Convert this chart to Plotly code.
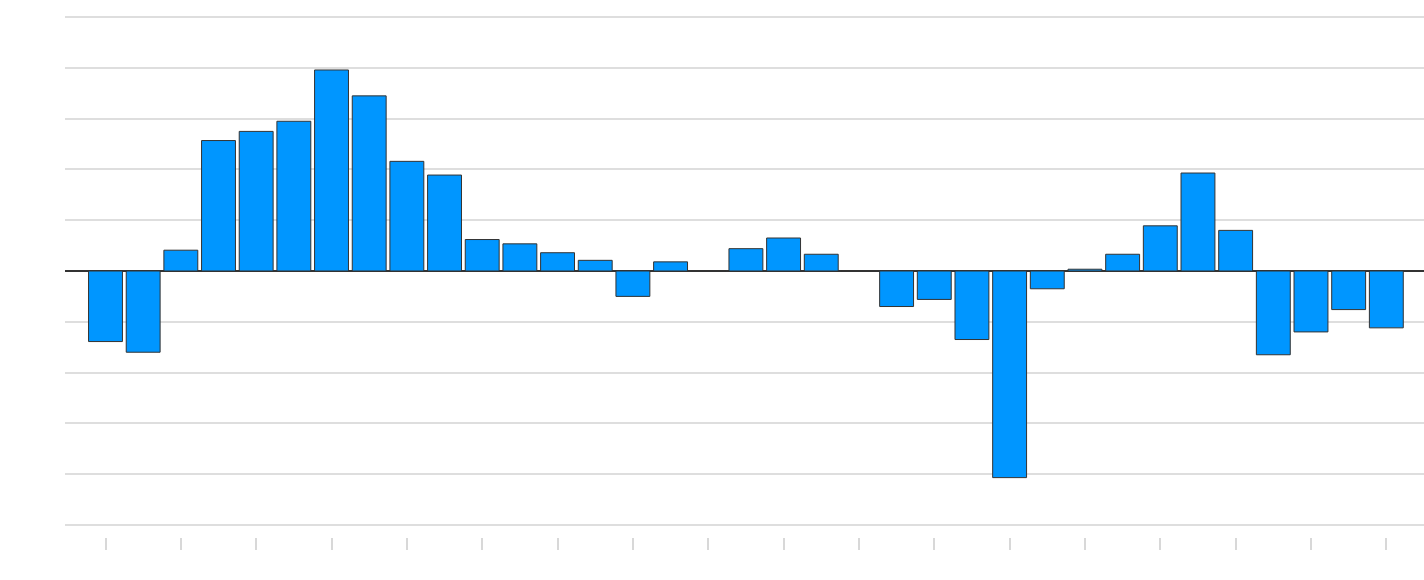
import plotly.graph_objects as go

# Category labels (not shown in the reference) and values
categories = [f"P{i + 1}" for i in range(35)]
values = [-1.39, -1.60, 0.41, 2.57, 2.75, 2.95, 3.96, 3.45, 2.16, 1.89,
          0.62, 0.535, 0.36, 0.21, -0.50, 0.18, 0.0, 0.44, 0.65, 0.33,
          0.0, -0.70, -0.56, -1.35, -4.07, -0.35, 0.035, 0.33, 0.89, 1.93,
          0.80, -1.65, -1.20, -0.76, -1.12]
tick_categories = categories[::2]

fig = go.Figure(
    go.Bar(
        x=categories,
        y=values,
        width=0.9,
        marker=dict(color="rgb(0,150,255)", line=dict(color="#333333", width=1)),
        hoverinfo="x+y",
    )
)

fig.update_layout(
    width=1424,
    height=580,
    margin=dict(l=65, r=0, t=5, b=43),
    paper_bgcolor="white",
    plot_bgcolor="white",
    showlegend=False,
    xaxis=dict(
        type="category",
        range=[-1.075, 35.0],
        showgrid=False,
        zeroline=False,
        showline=False,
        tickmode="array",
        tickvals=tick_categories,
        showticklabels=False,
        ticks="outside",
        ticklen=12,
        tickwidth=1.5,
        tickcolor="#d8d8d8",
    ),
    yaxis=dict(
        range=[-5.24, 5.24],
        tick0=0,
        dtick=1,
        showticklabels=False,
        showgrid=True,
        gridcolor="#dedede",
        gridwidth=2,
        zeroline=True,
        zerolinecolor="#333333",
        zerolinewidth=2,
        showline=False,
        ticks="",
    ),
)

fig.write_html(
    "out.html",
    config={"displayModeBar": False},
    post_script="document.body.style.margin='0px';document.body.style.overflow='hidden';",
)
